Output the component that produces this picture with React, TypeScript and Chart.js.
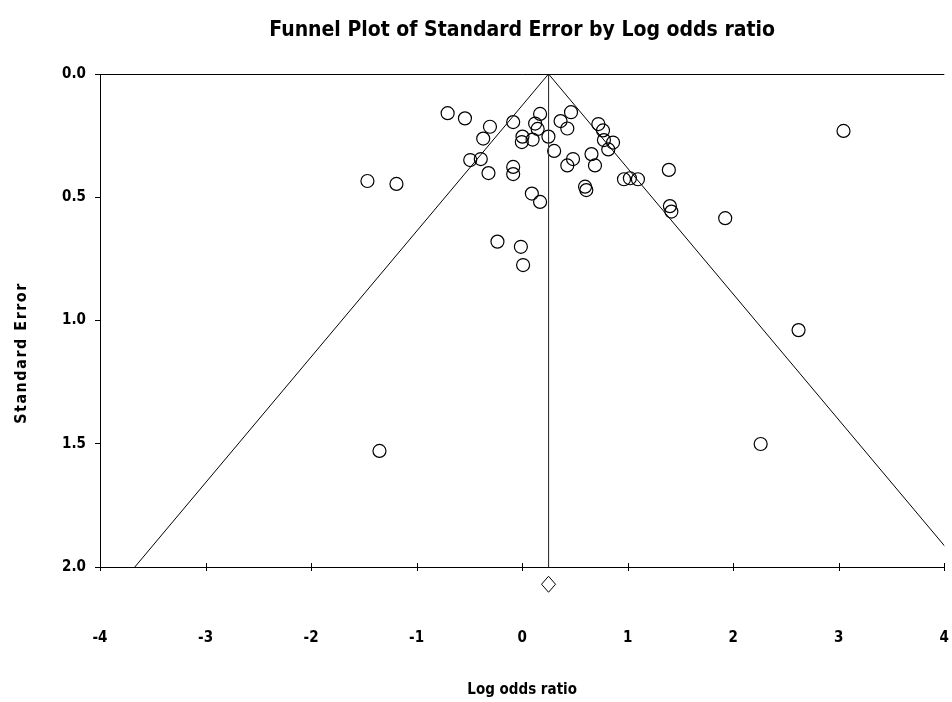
import { useEffect, useRef } from "react";
import { Chart, registerables } from "chart.js";

Chart.register(...registerables);

// Study-level effects (log odds ratio) and their standard errors
const logOddsRatio = [
  -0.706, -0.542, -0.305, -0.369, -0.085, 0.003, -0.003, 0.099, 0.123, 0.147,
  0.17, 0.249, 0.303, 0.364, 0.463, 0.428, 0.722, 0.766, 0.775, 0.861,
  0.816, 0.657, 0.69, 0.482, 0.428, -0.492, -0.392, -0.319, -0.085, -0.085,
  0.092, 0.17, 0.596, 0.608, 0.965, 1.021, 1.097, 1.39, 1.4, 1.414,
  1.924, -0.234, -0.012, 0.009, 3.045, 2.619, 2.26, -1.352, -1.466, -1.191,
];
const standardError = [
  0.159, 0.18, 0.214, 0.262, 0.195, 0.254, 0.276, 0.266, 0.201, 0.223,
  0.162, 0.254, 0.312, 0.191, 0.155, 0.221, 0.203, 0.229, 0.268, 0.278,
  0.306, 0.325, 0.371, 0.345, 0.371, 0.349, 0.345, 0.402, 0.377, 0.406,
  0.485, 0.519, 0.457, 0.471, 0.427, 0.423, 0.427, 0.389, 0.536, 0.558,
  0.585, 0.68, 0.701, 0.775, 0.231, 1.039, 1.501, 1.529, 0.434, 0.446,
];

// Pooled estimate and where its diamond sits below the axis
const summaryEffect = 0.25;
const summaryDiamondSE = 2.07;

const seMax = 2.0;
const z95 = 1.96;

const TITLE = "Funnel Plot of Standard Error by Log odds ratio";
const X_TITLE = "Log odds ratio";
const Y_TITLE = "Standard Error";

const NARROW = '"Liberation Sans Narrow", "DejaVu Sans Condensed", "Arial Narrow", sans-serif';

const textPlugin = {
  id: "funnelText",
  afterDraw(chart: Chart) {
    const { ctx, chartArea, scales } = chart;
    const cx = (chartArea.left + chartArea.right) / 2;
    ctx.save();

    // summary diamond, placed below the axis through the scales
    const dx = scales.x.getPixelForValue(summaryEffect);
    const dy = scales.y.getPixelForValue(summaryDiamondSE);
    ctx.beginPath();
    ctx.moveTo(dx, dy - 8);
    ctx.lineTo(dx + 7, dy);
    ctx.lineTo(dx, dy + 8);
    ctx.lineTo(dx - 7, dy);
    ctx.closePath();
    ctx.fillStyle = "#fff";
    ctx.fill();
    ctx.strokeStyle = "#000";
    ctx.lineWidth = 1;
    ctx.stroke();

    ctx.fillStyle = "#000";
    ctx.textAlign = "center";
    ctx.textBaseline = "middle";

    ctx.font = `bold 21px ${NARROW}`;
    ctx.fillText(TITLE, cx, 31);

    ctx.font = `bold 15px ${NARROW}`;
    ctx.fillText(X_TITLE, cx, 690);

    ctx.translate(22, 353);
    ctx.rotate(-Math.PI / 2);
    ctx.font = `bold 16px ${NARROW}`;
    (ctx as any).letterSpacing = "1.5px";
    ctx.fillText(Y_TITLE, 0, 0);
    ctx.restore();
  },
  beforeDatasetsDraw(chart: Chart) {
    const { ctx, chartArea, scales } = chart;
    ctx.save();
    ctx.strokeStyle = "#000";
    ctx.lineWidth = 1;
    // frame line along the top of the plot
    ctx.beginPath();
    ctx.moveTo(chartArea.left, chartArea.top + 0.5);
    ctx.lineTo(chartArea.right, chartArea.top + 0.5);
    ctx.stroke();
    // x tick marks cross the axis line
    const xs = scales.x;
    for (const t of xs.ticks) {
      const px = Math.round(xs.getPixelForValue(t.value)) + 0.5;
      ctx.beginPath();
      ctx.moveTo(px, chartArea.bottom - 4);
      ctx.lineTo(px, chartArea.bottom + 4);
      ctx.stroke();
    }
    ctx.restore();
  },
};

export default function App() {
  const canvasRef = useRef<HTMLCanvasElement | null>(null);

  useEffect(() => {
    if (!canvasRef.current) return;
    const studies = logOddsRatio.map((x, i) => ({ x, y: standardError[i] }));
    const funnel = [
      { x: summaryEffect - z95 * seMax, y: seMax },
      { x: summaryEffect, y: 0 },
      { x: summaryEffect + z95 * seMax, y: seMax },
    ];
    const centre = [
      { x: summaryEffect, y: 0 },
      { x: summaryEffect, y: seMax },
    ];

    const chart = new Chart(canvasRef.current, {
      type: "scatter",
      data: {
        datasets: [
          {
            data: funnel,
            showLine: true,
            borderColor: "#000",
            borderWidth: 1,
            pointRadius: 0,
          },
          {
            data: centre,
            showLine: true,
            borderColor: "#333",
            borderWidth: 1,
            pointRadius: 0,
          },
          {
            data: studies,
            pointStyle: "circle",
            pointRadius: 6.5,
            borderColor: "#000",
            borderWidth: 1.2,
            backgroundColor: "rgba(0,0,0,0)",
          },
        ],
      },
      options: {
        animation: false,
        responsive: true,
        maintainAspectRatio: false,
        layout: { padding: { top: 74, right: 3, left: 0, bottom: 0 } },
        plugins: {
          legend: { display: false },
          tooltip: { enabled: false },
          title: { display: false },
        },
        scales: {
          x: {
            type: "linear",
            min: -4,
            max: 4,
            ticks: {
              stepSize: 1,
              color: "#000",
              padding: 0,
              font: { family: NARROW, size: 15, weight: "bold" },
            },
            grid: {
              drawOnChartArea: false,
              tickLength: 62,
              tickColor: "rgba(0,0,0,0)",
            },
            border: { color: "#000", width: 1 },
            afterFit: (s: any) => {
              s.height = 135;
            },
          },
          y: {
            type: "linear",
            reverse: true,
            min: 0,
            max: seMax,
            ticks: {
              stepSize: 0.5,
              color: "#000",
              padding: 9,
              font: { family: NARROW, size: 15, weight: "bold" },
              callback: (v: any) => Number(v).toFixed(1),
            },
            grid: { drawOnChartArea: false, tickLength: 5, color: "#000" },
            border: { color: "#000", width: 1 },
            afterFit: (s: any) => {
              s.width = 100;
            },
          },
        },
      },
      plugins: [textPlugin],
    });
    return () => chart.destroy();
  }, []);

  return (
    <div style={{ position: "fixed", left: 0, top: 0, width: 952, height: 702, background: "#fff" }}>
      <canvas ref={canvasRef} />
    </div>
  );
}
